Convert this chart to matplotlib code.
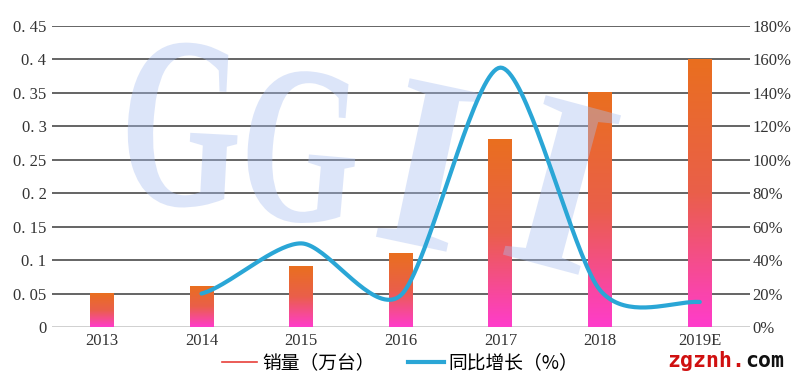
import numpy as np
import matplotlib
matplotlib.use('Agg')
import matplotlib.pyplot as plt
from matplotlib.colors import LinearSegmentedColormap
from matplotlib.lines import Line2D
from matplotlib.textpath import TextPath
from matplotlib.patches import PathPatch
from matplotlib.font_manager import FontProperties
from matplotlib.transforms import Affine2D

plt.rcParams['font.family'] = ['Liberation Serif', 'Noto Sans CJK SC', 'DejaVu Sans']

# data
years = ['2013', '2014', '2015', '2016', '2017', '2018', '2019E']
sales = [0.05, 0.06, 0.09, 0.11, 0.28, 0.35, 0.40]          # 销量（万台）
growth_years = [1, 2, 3, 4, 5, 6]                          # index into years
growth = [20, 50, 19, 155, 22, 15]                         # 同比增长（%）
left_ticks = [0, 0.05, 0.1, 0.15, 0.2, 0.25, 0.3, 0.35, 0.4, 0.45]
left_labels = ['0', '0. 05', '0. 1', '0. 15', '0. 2', '0. 25', '0. 3', '0. 35', '0. 4', '0. 45']
right_ticks = [0, 20, 40, 60, 80, 100, 120, 140, 160, 180]


def smooth(xs, ys, n=40, k=0.8):
    # cardinal spline, close to Excel's "smoothed line"
    xs = np.asarray(xs, float)
    ys = np.asarray(ys, float)
    px = np.concatenate([[2 * xs[0] - xs[1]], xs, [2 * xs[-1] - xs[-2]]])
    py = np.concatenate([[ys[0]], ys, [ys[-1]]])
    t = np.linspace(0, 1, n)
    h00, h10 = 2 * t**3 - 3 * t**2 + 1, t**3 - 2 * t**2 + t
    h01, h11 = -2 * t**3 + 3 * t**2, t**3 - t**2
    ox, oy = [], []
    for i in range(1, len(px) - 2):
        for p, o in ((px, ox), (py, oy)):
            m1 = k * (p[i + 1] - p[i - 1]) / 2
            m2 = k * (p[i + 2] - p[i]) / 2
            o.extend(h00 * p[i] + h10 * m1 + h01 * p[i + 1] + h11 * m2)
    return np.array(ox), np.array(oy)


def watermark(ax, ch, cx, cy, w, h, rot=0.0):
    # glyph scaled to w x h pixels, centred at image pixel (cx, cy), rotated
    path = TextPath((0, 0), ch, size=1,
                    prop=FontProperties(family='Liberation Serif', weight='bold'))
    ext = path.get_extents()
    H = fig.get_figheight() * 100
    tr = (Affine2D().translate(-ext.x0 - ext.width / 2, -ext.y0 - ext.height / 2)
          .scale(w / 100 / ext.width, h / 100 / ext.height)
          .rotate_deg(rot).translate(cx / 100, (H - cy) / 100))
    patch = PathPatch(tr.transform_path(path), transform=fig.dpi_scale_trans,
                      facecolor='#A9BFF0', edgecolor='none', alpha=0.4,
                      zorder=4, clip_on=False)
    ax.add_artist(patch)


fig = plt.figure(figsize=(8, 3.79), dpi=100)
ax = fig.add_axes([0.065, 0.137, 0.872, 0.795])
ax2 = ax.twinx()
ax.set_zorder(1)
ax2.set_zorder(2)

x = np.arange(len(years))

# gradient bars
cmap = LinearSegmentedColormap.from_list('bar', ['#FF3CCB', '#EA5F4A', '#E96F1F'])
grad = np.linspace(0, 1, 256).reshape(-1, 1)
w = 0.24
for xi, v in zip(x, sales):
    ax.imshow(grad, cmap=cmap, origin='lower', aspect='auto',
              extent=[xi - w / 2, xi + w / 2, 0, v], zorder=3)
ax.set_xlim(-0.5, len(years) - 0.5)
ax.set_ylim(0, 0.45)
ax2.set_ylim(0, 180)

# grid lines
for t in left_ticks[1:]:
    ax.axhline(t, color='#3A3A3A', lw=1.1, zorder=2)
ax.axhline(0, color='#C8C8C8', lw=1.2, zorder=2)

# GGII watermark
watermark(ax, 'G', 183, 125, 110, 165, rot=-3)
watermark(ax, 'G', 302, 147, 108, 152, rot=-5)
watermark(ax, 'I', 428, 165, 72, 162, rot=-12)
watermark(ax, 'I', 562, 185, 78, 165, rot=-15)

# growth line
sx, sy = smooth(growth_years, growth)
ax2.plot(sx, sy, color='#2AA6D6', lw=3, solid_capstyle='round')

ax.set_yticks(left_ticks)
ax.set_yticklabels(left_labels)
ax2.set_yticks(right_ticks)
ax2.set_yticklabels([f'{t}%' for t in right_ticks])
ax.set_xticks(x)
ax.set_xticklabels(years)
for a in (ax, ax2):
    for s in a.spines.values():
        s.set_visible(False)
    a.tick_params(length=0, labelsize=12, colors='#333333')
ax.tick_params(axis='x', pad=4)
ax.tick_params(axis='y', pad=4)
ax2.tick_params(axis='y', pad=2)

handles = [Line2D([], [], color='#E8403A', lw=1.2),
           Line2D([], [], color='#2AA6D6', lw=3)]
fig.legend(handles, ['销量（万台）', '同比增长（%）'], loc='lower center',
           bbox_to_anchor=(0.5, -0.03), ncol=2, frameon=False,
           handlelength=1.9, handletextpad=0.25, columnspacing=1.8,
           prop={'family': 'Noto Sans CJK SC', 'size': 13.5})

fig.text(0.834, 0.048, 'zgznh.', color='#D01010', fontsize=15.5, fontweight='bold',
         family='DejaVu Sans Mono', ha='left', va='center')
fig.text(0.931, 0.048, 'com', color='#111111', fontsize=15.5, fontweight='bold',
         family='DejaVu Sans Mono', ha='left', va='center')

fig.savefig('out.png', dpi=100)
